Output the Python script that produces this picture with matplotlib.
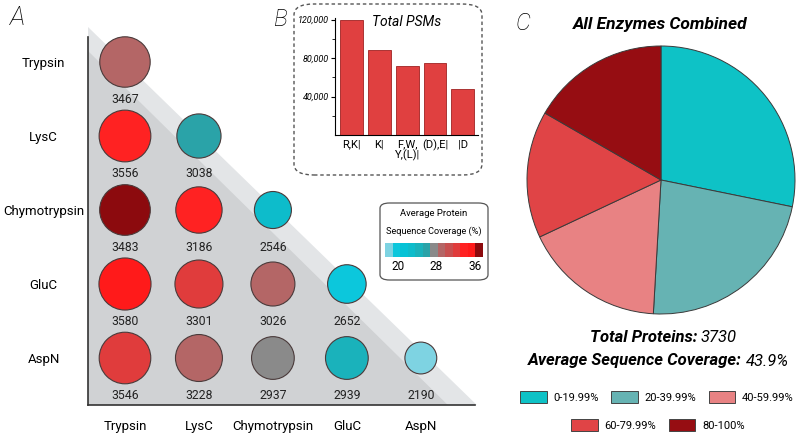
import numpy as np
import matplotlib
matplotlib.use("Agg")
import matplotlib.pyplot as plt
from matplotlib.colors import ListedColormap, Normalize
from matplotlib.patches import FancyBboxPatch, Polygon, Patch
from matplotlib.cm import ScalarMappable

plt.rcParams['font.family'] = ['Roboto', 'DejaVu Sans']
plt.rcParams['axes.facecolor'] = 'none'

# ---- data ----
enzymes = ["Trypsin", "LysC", "Chymotrypsin", "GluC", "AspN"]
# lower-triangle matrix (row, col) -> protein IDs / average coverage (%)
pair_rows = [0, 1, 1, 2, 2, 2, 3, 3, 3, 3, 4, 4, 4, 4, 4]
pair_cols = [0, 0, 1, 0, 1, 2, 0, 1, 2, 3, 0, 1, 2, 3, 4]
pair_proteins = [3467, 3556, 3038, 3483, 3186, 2546, 3580, 3301, 3026, 2652,
                 3546, 3228, 2937, 2939, 2190]
pair_coverage = [29.0, 34.0, 26.0, 37.0, 34.0, 23.0, 35.0, 32.0, 29.5, 20.0,
                 32.0, 29.0, 27.5, 24.5, 18.0]

psm_labels = ["R,K|", "K|", "F,W,\nY,(L)|", "(D),E|", "|D"]
psm_values = [119000, 88300, 71700, 74800, 47800]

cov_bins = ["0-19.99%", "20-39.99%", "40-59.99%", "60-79.99%", "80-100%"]
cov_counts = [1052, 847, 638, 571, 622]
total_proteins = 3730
avg_coverage = 43.9

cov_colors = ["#0ec2c6", "#66b3b3", "#e88283", "#e04446", "#960d12"]
block_colors = ["#7ed3e2", "#0cc7dc", "#05c2d6", "#0dbccb", "#1ab2bb", "#2aa3a8",
                "#8a8a8a", "#b46666", "#c85050", "#e03c3c", "#ff2222", "#ff1a1a",
                "#8c0a0e"]
cmap = ListedColormap(block_colors)
norm = Normalize(vmin=17.3, vmax=37.7)

W, H = 800, 441
fig = plt.figure(figsize=(8, 4.41), dpi=100)


def fx(px):
    return px / W


def fy(py):
    return 1 - py / H


# ---- panel A ----
axA = fig.add_axes([fx(88), fy(405), fx(392), 380 / H])
axA.set_xlim(-0.5, 4.8)
axA.set_ylim(4.635, -0.5)
axA.add_patch(Polygon([(-0.5, -0.473), (4.757, 4.635), (-0.5, 4.635)],
                      closed=True, fc="#e3e5e7", ec="none", zorder=0))
axA.add_patch(Polygon([(-0.5, -0.149), (4.365, 4.635), (-0.5, 4.635)],
                      closed=True, fc="#d0d2d4", ec="none", zorder=0))
diam = np.array(pair_proteins) / 137.5 * 2 * 0.72
axA.scatter(pair_cols, pair_rows, s=diam ** 2, c=pair_coverage, cmap=cmap, norm=norm,
            edgecolors="#4a3a3a", linewidths=0.8, zorder=3)
for r, c, n in zip(pair_rows, pair_cols, pair_proteins):
    axA.text(c, r + 0.5, str(n), ha="center", va="center", fontsize=8.8,
             color="#222222", zorder=4)
for s in ["top", "right"]:
    axA.spines[s].set_visible(False)
axA.spines["left"].set_bounds(-0.34, 4.635)
axA.spines["bottom"].set_bounds(-0.5, 4.73)
for s in ["left", "bottom"]:
    axA.spines[s].set_linewidth(1.2)
    axA.spines[s].set_color("#333333")
axA.set_xticks(range(5))
axA.set_xticklabels(enzymes, fontsize=9.5)
axA.set_yticks(range(5))
axA.set_yticklabels(enzymes, fontsize=9.5, ha="center")
axA.tick_params(axis="y", length=0, pad=32)
axA.tick_params(axis="x", length=0, pad=11)
fig.text(fx(18), fy(18), "A", fontsize=19, style="italic", weight="light",
         ha="center", va="center")

# ---- panel B ----
fig.patches.append(FancyBboxPatch((fx(294), fy(175)), fx(188), 171 / H,
                                  boxstyle="round,pad=0,rounding_size=0.025",
                                  transform=fig.transFigure, fc="none", ec="#555555",
                                  lw=1.0, ls=(0, (2.5, 2)), zorder=-1))
axB = fig.add_axes([fx(335), fy(135), fx(143), 117.4 / H])
axB.bar(range(len(psm_values)), psm_values, width=0.82, color="#e04040",
        edgecolor="#a02222", linewidth=0.6)
axB.set_xlim(-0.6, 4.55)
axB.set_ylim(0, 122000)
axB.set_yticks([40000, 80000, 120000])
axB.set_yticklabels(["40,000", "80,000", "120,000"], fontsize=6.5, style="italic")
axB.set_yticks([20000, 60000, 100000], minor=True)
axB.set_xticks(range(len(psm_labels)))
axB.set_xticklabels(psm_labels, fontsize=8, linespacing=1.0)
axB.tick_params(axis="x", length=0, pad=3)
axB.tick_params(axis="y", which="major", length=3, pad=1.5)
axB.tick_params(axis="y", which="minor", length=2)
for s in ["top", "right"]:
    axB.spines[s].set_visible(False)
axB.set_title("Total PSMs", fontsize=10, style="italic", x=0.5, y=0.86)
fig.text(fx(281), fy(20), "B", fontsize=17, style="italic", weight="light",
         ha="center", va="center")

# colour scale
fig.patches.append(FancyBboxPatch((fx(380), fy(280)), fx(108), 77 / H,
                                  boxstyle="round,pad=0,rounding_size=0.012",
                                  transform=fig.transFigure, fc="white", ec="#555555",
                                  lw=0.9, zorder=-1))
fig.text(fx(434), fy(214), "Average Protein", fontsize=6.8, ha="center", va="center")
fig.text(fx(434), fy(231), "Sequence Coverage (%)", fontsize=6.6, ha="center", va="center")
cax = fig.add_axes([fx(385), fy(257), fx(98), 14 / H])
cb = fig.colorbar(ScalarMappable(norm=norm, cmap=cmap), cax=cax, orientation="horizontal")
cb.set_ticks([20, 28, 36])
cb.outline.set_visible(False)
cax.tick_params(length=0, pad=2, labelsize=8.5)

# ---- panel C ----
axC = fig.add_axes([fx(661 - 167.5), fy(180 + 167.5), fx(335), 335 / H])
axC.pie(cov_counts, colors=cov_colors, startangle=90, counterclock=False,
        wedgeprops=dict(edgecolor="#3a3a3a", linewidth=0.7))
fig.text(fx(523), fy(24), "C", fontsize=17, style="italic", weight="light",
         ha="center", va="center")
fig.text(fx(660), fy(24), "All Enzymes Combined", fontsize=12.5, style="italic",
         weight="bold", ha="center", va="center")
fig.text(fx(701), fy(338), "Total Proteins: ", fontsize=12, style="italic",
         weight="bold", ha="right", va="center")
fig.text(fx(701), fy(338), str(total_proteins), fontsize=12, style="italic",
         ha="left", va="center")
fig.text(fx(746), fy(361), "Average Sequence Coverage: ", fontsize=12, style="italic",
         weight="bold", ha="right", va="center")
fig.text(fx(746), fy(361), f"{avg_coverage}%", fontsize=12, style="italic",
         ha="left", va="center")

handles = [Patch(fc=c, ec="#444444", lw=0.7, label=l) for c, l in zip(cov_colors, cov_bins)]
leg_kw = dict(frameon=False, fontsize=8, handlelength=2.4, handleheight=1.2,
              handletextpad=0.6, columnspacing=1.1, borderaxespad=0, loc="center")
fig.legend(handles=handles[:3], ncol=3, bbox_to_anchor=(fx(657), fy(397)), **leg_kw)
fig.legend(handles=handles[3:], ncol=2, bbox_to_anchor=(fx(658), fy(425)), **leg_kw)

fig.savefig("out.png", dpi=100)
